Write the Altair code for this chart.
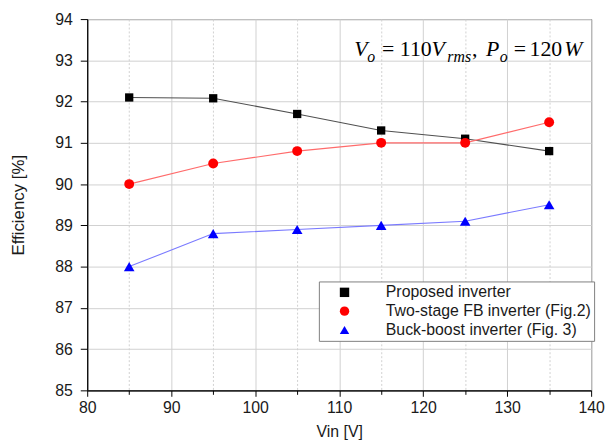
import altair as alt
import pandas as pd

# ---- data ----
vin = [85, 95, 105, 115, 125, 135]
proposed = [92.1, 92.08, 91.7, 91.3, 91.1, 90.8]
two_stage = [90.0, 90.5, 90.8, 91.0, 91.0, 91.5]
buck_boost = [88.0, 88.8, 88.9, 89.0, 89.1, 89.5]

series_names = ["Proposed inverter", "Two-stage FB inverter (Fig.2)", "Buck-boost inverter (Fig. 3)"]
marker_colors = ["#000000", "#ff0000", "#0000ff"]
line_colors = ["#505050", "#ff6b6b", "#7a7aff"]
marker_shapes = ["square", "circle", "triangle-up"]
marker_sizes = [70, 100, 115]

x_ticks = [80, 85, 90, 95, 100, 105, 110, 115, 120, 125, 130, 135, 140]
y_ticks = [85, 85.5, 86, 86.5, 87, 87.5, 88, 88.5, 89, 89.5, 90, 90.5, 91, 91.5,
           92, 92.5, 93, 93.5, 94]

# annotation pieces
note_x = 111.8
note_y = 93.1
note_text = ["V", "o", "=", "110", "V", "rms", ",", "P", "o", "=", "120", "W"]
note_dx = [0, 13, 28, 46, 78, 94, 119, 133, 147, 161, 177, 212]
note_sub = [False, True, False, False, False, True, False, False, True, False, False, False]
note_ital = [True, True, False, False, True, True, False, True, True, False, False, True]

rows = []
for name, vals in zip(series_names, [proposed, two_stage, buck_boost]):
    for v, e in zip(vin, vals):
        rows.append({"Vin": v, "Eff": e, "Series": name})
df = pd.DataFrame(rows)
one_row = pd.DataFrame({"k": [0]})

x_axis = alt.Axis(
    title="Vin [V]", values=x_ticks,
    labelExpr="datum.value % 10 === 0 ? datum.label : ''",
    labelOverlap=False, labelFlush=False,
    tickSize={"condition": {"test": "datum.value % 10 === 0", "value": 6}, "value": 4},
    gridDash={"condition": {"test": "datum.value % 10 === 0", "value": []}, "value": [2, 2]},
    labelFontSize=16, titleFontSize=16, labelPadding=3, titlePadding=9,
)
y_axis = alt.Axis(
    title="Efficiency [%]", values=y_ticks,
    labelExpr="datum.value % 1 === 0 ? datum.label : ''",
    labelOverlap=False, labelFlush=False,
    tickSize={"condition": {"test": "datum.value % 1 === 0", "value": 7}, "value": 4},
    gridDash={"condition": {"test": "datum.value % 1 === 0", "value": []}, "value": [2, 2]},
    labelFontSize=16, titleFontSize=17, labelPadding=8, titlePadding=28,
)

X = alt.X("Vin:Q", scale=alt.Scale(domain=[80, 140], nice=False, zero=False), axis=x_axis)
Y = alt.Y("Eff:Q", scale=alt.Scale(domain=[85, 94], nice=False, zero=False), axis=y_axis)

leg = alt.Legend(
    orient="none", legendX=234, legendY=265, title=None,
    fillColor="white", strokeColor="#7f7f7f", padding=3,
    labelFontSize=16, labelFont="Liberation Sans", labelColor="#1a1a1a",
    rowPadding=3, labelOffset=33.7, symbolOffset=14.9, symbolSize=90,
    symbolStrokeWidth=0, labelLimit=400,
)

lines = alt.Chart(df).mark_line(strokeWidth=1.1).encode(
    x=X, y=Y,
    stroke=alt.Stroke("Series:N", scale=alt.Scale(domain=series_names, range=line_colors), legend=leg),
    detail="Series:N",
)

point_layers = []
for name, col, shp, sz in zip(series_names, marker_colors, marker_shapes, marker_sizes):
    point_layers.append(
        alt.Chart(df).transform_filter(alt.datum.Series == name).mark_point(
            filled=True, opacity=1, shape=shp, size=sz, color=col
        ).encode(x=X, y=Y)
    )

legend_layer = alt.Chart(df).transform_filter("false").mark_point(filled=True, opacity=1).encode(
    x=X, y=Y,
    color=alt.Color("Series:N", scale=alt.Scale(domain=series_names, range=marker_colors), legend=leg),
    shape=alt.Shape("Series:N", scale=alt.Scale(domain=series_names, range=marker_shapes), legend=leg),
)

note_layers = []
for t, dx, sub, ital in zip(note_text, note_dx, note_sub, note_ital):
    note_layers.append(
        alt.Chart(one_row).mark_text(
            align="left", baseline="alphabetic", font="Liberation Serif",
            fontSize=16 if sub else 22, fontStyle="italic" if ital else "normal",
            dx=dx, dy=6 if sub else 0, color="black",
        ).encode(x=alt.datum(note_x), y=alt.datum(note_y), text=alt.value(t))
    )

chart = alt.layer(lines, *point_layers, legend_layer, *note_layers).properties(
    width=509, height=375,
    autosize=alt.AutoSizeParams(type="none"),
    padding={"left": 80, "top": 9, "right": 14, "bottom": 54},
).configure_view(
    stroke="black", strokeWidth=1
).configure_axis(
    domainColor="black", tickColor="black", labelColor="#1a1a1a", titleColor="#1a1a1a",
    labelFont="Liberation Sans", titleFont="Liberation Sans", titleFontWeight="normal",
    gridColor="#d0d0d0", gridWidth=1, domainWidth=1.2,
)

chart.save("out.html", embed_options={"renderer": "svg", "actions": False})
